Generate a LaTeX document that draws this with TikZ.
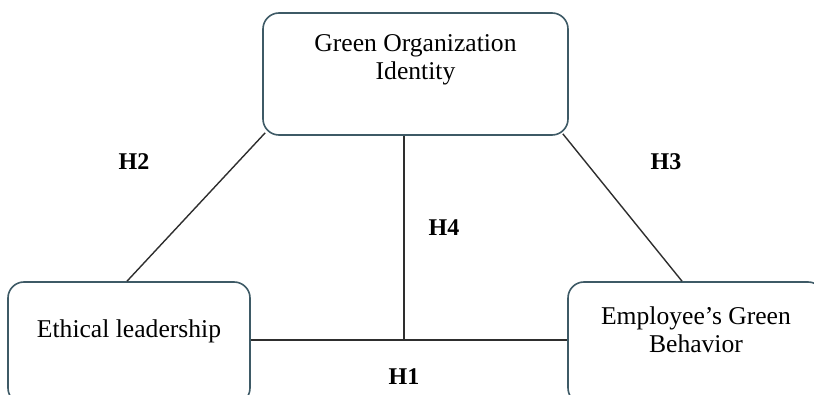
\documentclass[tikz,border=0pt]{standalone}
\usepackage{fontspec}
\setmainfont{Liberation Serif}
\definecolor{boxcol}{HTML}{3E5A66}
\definecolor{linecol}{HTML}{2E2E2E}
\begin{document}
\begin{tikzpicture}[x=1pt,y=-1pt,
  box/.style={draw=boxcol, line width=1.6pt, rounded corners=16pt, fill=white, inner sep=0pt},
  boxtext/.style={align=center, font=\fontsize{25.6}{28}\selectfont, inner sep=0pt},
  hyp/.style={font=\fontsize{24}{28}\selectfont\bfseries, inner sep=0pt},
  conn/.style={draw=linecol, line width=1.4pt}]
\useasboundingbox (0,0) rectangle (814,395);
% boxes
\node[box, minimum width=305pt, minimum height=122pt] (goi) at (415.5,74) {};
\node[box, minimum width=242pt, minimum height=122pt] (el) at (129,343) {};
\node[box, minimum width=256pt, minimum height=122pt] (emp) at (696,343) {};
% texts
\node[boxtext] (goit) at (415.5,60) {Green Organization\\Identity};
\node[boxtext] (elt) at (129,331) {Ethical leadership};
\node[boxtext] (empt) at (696,330) {Employee’s Green\\Behavior};
% connectors
\coordinate (j) at (404,340);
\draw[conn] (el.north -| 127,0) -- ([shift={(3,-3)}]goi.south west);
\draw[conn] ([xshift=-14pt]emp.north) -- ([shift={(-6,-2)}]goi.south east);
\draw[conn] (el.east |- j) -- (emp.west |- j);
\draw[conn] (goi.south -| j) -- (j);
% labels
\node[hyp] (h1) at (404,377) {H1};
\node[hyp] (h2) at (134,162) {H2};
\node[hyp] (h3) at (666,162) {H3};
\node[hyp] (h4) at (444,228) {H4};
\end{tikzpicture}
\end{document}
